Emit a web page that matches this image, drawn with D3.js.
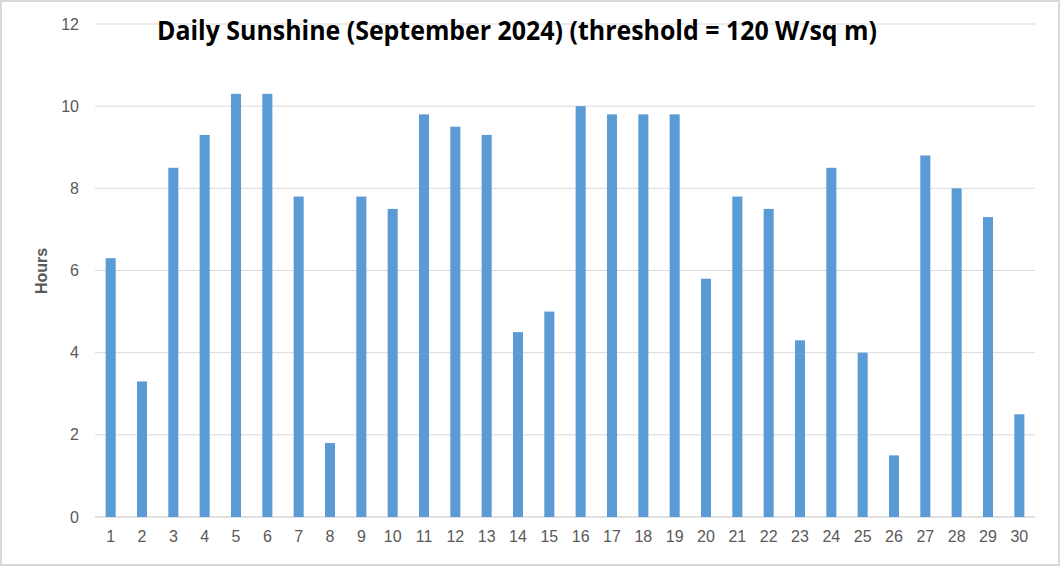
<!DOCTYPE html>
<html><head><meta charset="utf-8">
<script src="https://cdn.jsdelivr.net/npm/d3@7"></script>
<style>body{margin:0;background:#fff}svg{display:block}</style>
</head><body>
<script>
const days = d3.range(1, 31).map(String);
const hours = [6.3,3.3,8.5,9.3,10.3,10.3,7.8,1.8,7.8,7.5,9.8,9.5,9.3,4.5,5.0,10.0,9.8,9.8,9.8,5.8,7.8,7.5,4.3,8.5,4.0,1.5,8.8,8.0,7.3,2.5];
const yTicks = [0,2,4,6,8,10,12];
const titleText = "Daily Sunshine (September 2024) (threshold = 120 W/sq m)";
const yLabel = "Hours";

const W = 1060, H = 566;
const svg = d3.select("body").append("svg").attr("width", W).attr("height", H);
svg.append("rect").attr("x",1).attr("y",1).attr("width",W-2).attr("height",H-2)
  .attr("fill","#fff").attr("stroke","#d9d9d9").attr("stroke-width",2);

const x = d3.scaleBand().domain(days).range([95, 1035]).paddingInner(0.68).paddingOuter(0.34);
const y = d3.scaleLinear().domain([0, 12]).range([517, 24]);

const g = svg.append("g");
g.selectAll("line.grid").data(yTicks).join("line")
  .attr("x1", 95).attr("x2", 1035)
  .attr("y1", d => y(d)).attr("y2", d => y(d))
  .attr("stroke", "#d9d9d9").attr("stroke-width", d => d === 0 ? 1.5 : 1);

g.selectAll("rect.bar").data(hours).join("rect")
  .attr("x", (d,i) => x(days[i])).attr("width", x.bandwidth())
  .attr("y", d => y(d)).attr("height", d => y(0) - y(d))
  .attr("fill", "#5b9bd5");

const yAxis = d3.axisLeft(y).tickValues(yTicks).tickSize(0).tickPadding(0);
const ya = svg.append("g").attr("transform","translate(79,0)").call(yAxis);
ya.select(".domain").remove();
ya.selectAll("text").attr("fill","#595959").style("font-family","'Liberation Sans', Arial, sans-serif").style("font-size","16px");

const xAxis = d3.axisBottom(x).tickSize(0).tickPadding(0);
const xa = svg.append("g").attr("transform","translate(0,531)").call(xAxis);
xa.select(".domain").remove();
xa.selectAll("text").attr("fill","#595959").style("font-family","'Liberation Sans', Arial, sans-serif").style("font-size","16px");

svg.append("text").attr("x", 517).attr("y", 40).attr("text-anchor","middle")
  .attr("textLength", 720).attr("lengthAdjust","spacingAndGlyphs")
  .style("font-family","'Open Sans', 'Liberation Sans', sans-serif").style("font-weight","bold").style("font-size","26px")
  .attr("fill","#000").text(titleText);

svg.append("text").attr("transform","translate(47,271) rotate(-90)").attr("text-anchor","middle")
  .style("font-family","'Liberation Sans', Arial, sans-serif").style("font-weight","bold").style("font-size","16px")
  .attr("fill","#595959").text(yLabel);
</script>
</body></html>
